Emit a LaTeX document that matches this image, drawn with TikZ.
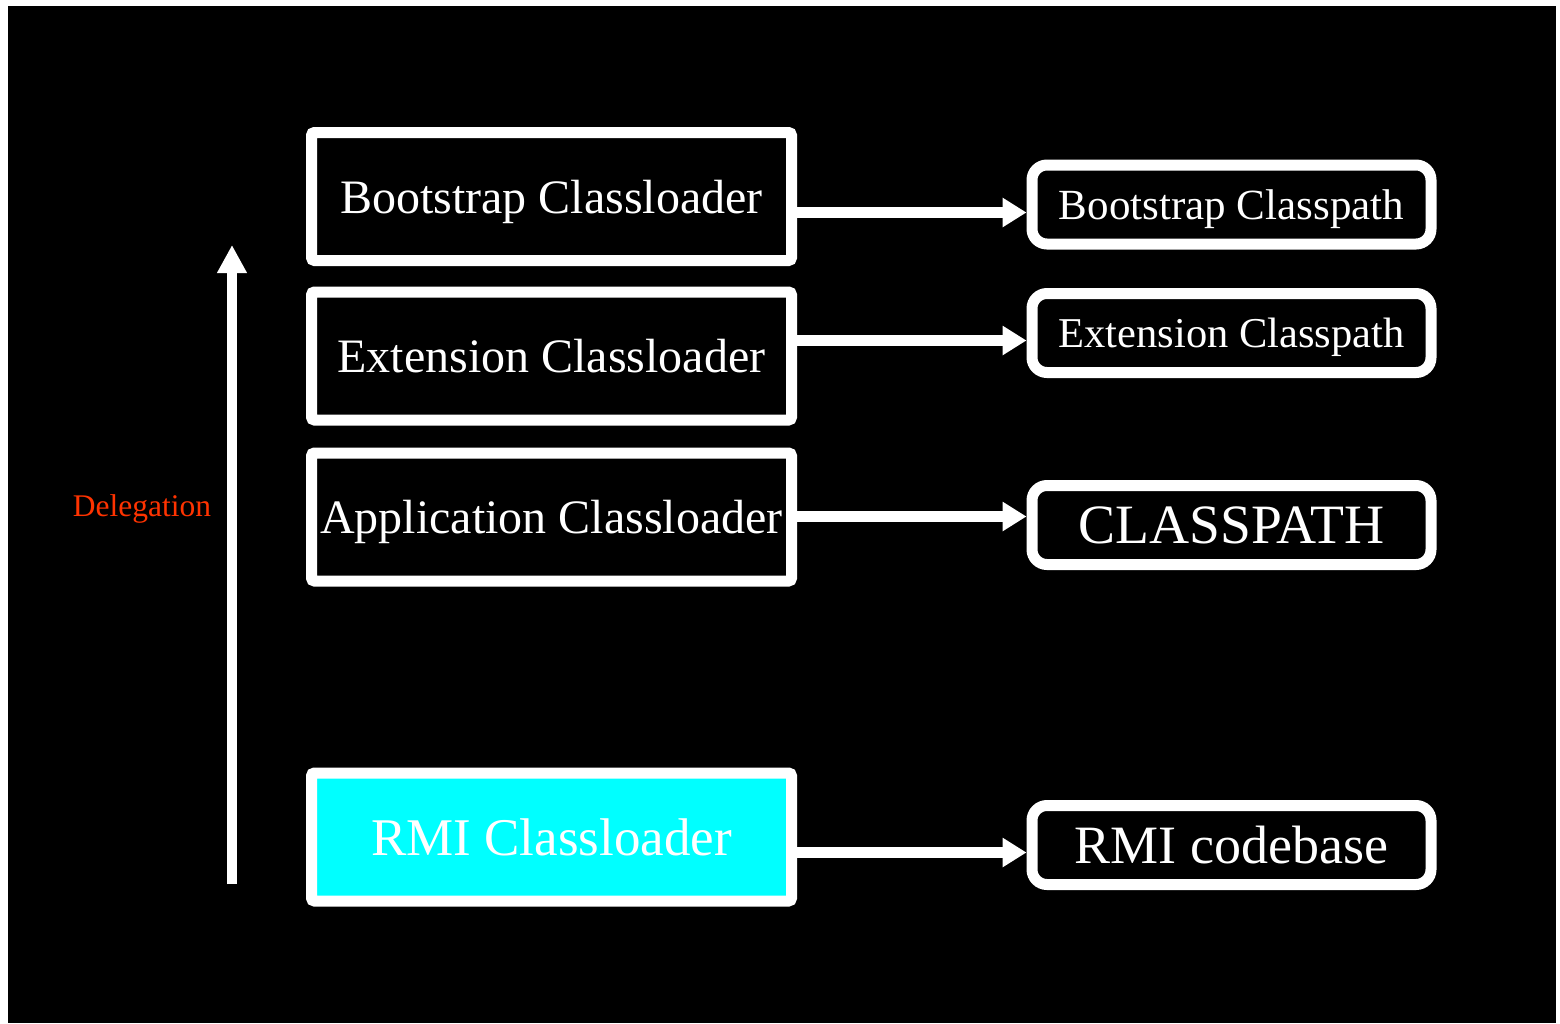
\documentclass[tikz,border=0pt]{standalone}
\usepackage{fontspec}
\setmainfont{Liberation Serif}
\usetikzlibrary{arrows.meta}
\definecolor{delegred}{HTML}{FF3300}
\definecolor{rmicyan}{HTML}{00FFFF}
\tikzset{
  evenbase/.style={text height=#1, text depth=0pt},
  loaderbox/.style={draw=white, line width=11pt, rectangle, rounded corners=3pt,
    minimum width=480pt, minimum height=128pt, inner sep=0pt, text=white,
    font=\fontsize{48}{56}\selectfont, evenbase=33pt},
  pathbox/.style={draw=white, line width=11pt, rectangle, rounded corners=15pt,
    minimum width=399pt, minimum height=79pt, inner sep=0pt, text=white},
  linkarrow/.style={draw=white, line width=11pt,
    -{Triangle[length=24pt,width=28pt]}},
}
\begin{document}
\begin{tikzpicture}[x=1pt,y=-1pt]
\useasboundingbox (0,0) rectangle (1560,1023);
\fill[white] (0,0) rectangle (1560,1023);
\fill[black] (8,6) rectangle (1556,1023);

\node[loaderbox] (lb1) at (551.5,196.5) {Bootstrap Classloader};
\node[loaderbox] (lb2) at (551.5,356) {Extension Classloader};
\node[loaderbox] (lb3) at (551.5,517) {Application Classloader};
\node[loaderbox, fill=rmicyan, font=\fontsize{53}{60}\selectfont, evenbase=36.5pt] (lb4) at (551.5,837) {RMI Classloader};

\node[pathbox, font=\fontsize{43}{50}\selectfont, evenbase=29.5pt] (rb1) at (1231.5,204.5) {Bootstrap Classpath};
\node[pathbox, font=\fontsize{42.5}{50}\selectfont, evenbase=29.3pt] (rb2) at (1231.5,333) {Extension Classpath};
\node[pathbox, font=\fontsize{55.5}{62}\selectfont, evenbase=37pt] (rb3) at (1231.5,525) {CLASSPATH};
\node[pathbox, font=\fontsize{54}{60}\selectfont, evenbase=37pt] (rb4) at (1231.5,845) {RMI codebase};

\coordinate (a1) at ([yshift=-16pt]lb1.east);
\coordinate (a2) at ([yshift=15.5pt]lb2.east);
\coordinate (a3) at ([yshift=0.5pt]lb3.east);
\coordinate (a4) at ([yshift=-15.5pt]lb4.east);
\draw[linkarrow] (a1) -- (a1 -| rb1.west);
\draw[linkarrow] (a2) -- (a2 -| rb2.west);
\draw[linkarrow] (a3) -- (a3 -| rb3.west);
\draw[linkarrow] (a4) -- (a4 -| rb4.west);

\coordinate (dbot) at (232,884);
\coordinate (dtop) at (232,245);
\draw[white, line width=10pt, -{Triangle[length=28pt,width=28pt]}] (dbot) -- (dtop);

\node[text=delegred, font=\fontsize{31.5}{36}\selectfont, inner sep=0pt, evenbase=21.7pt] (deleg) at (142,506) {Delegation};
\end{tikzpicture}
\end{document}
